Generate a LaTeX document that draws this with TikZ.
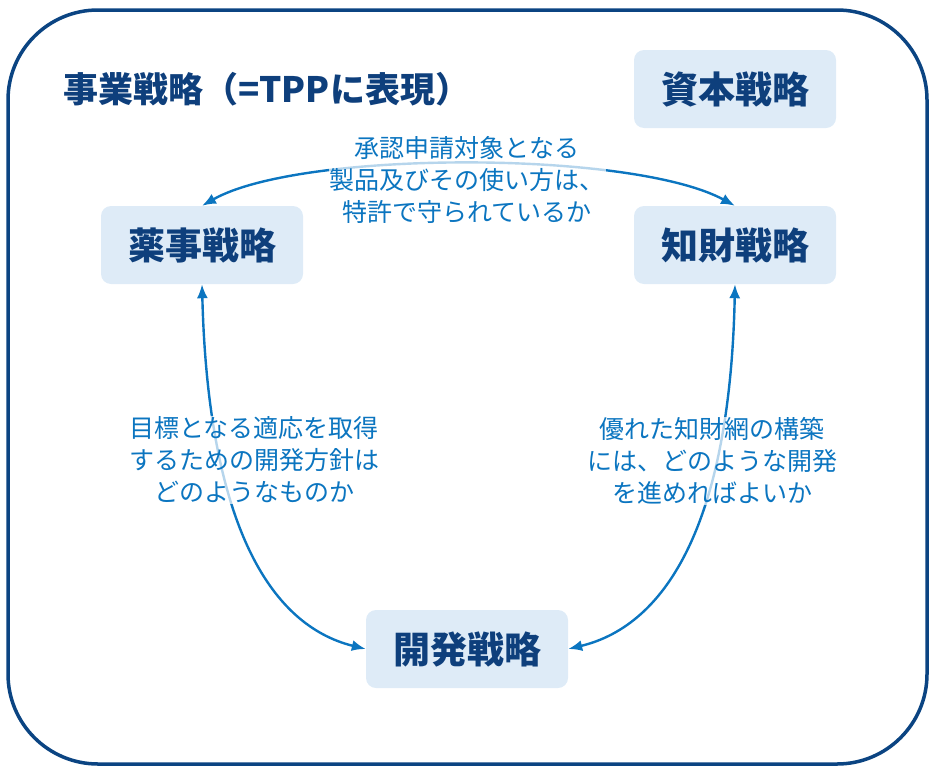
\documentclass[tikz,border=0pt]{standalone}
\usepackage{fontspec}
\newfontfamily\jp{Noto Sans CJK JP}
\usetikzlibrary{arrows.meta}
\definecolor{navy}{HTML}{0E3F7C}
\definecolor{frame}{HTML}{0B4482}
\definecolor{boxfill}{HTML}{DEEBF7}
\definecolor{arrowc}{HTML}{0B75C0}
\tikzset{
  stratbox/.style={draw=none, fill=boxfill, rounded corners=10pt, minimum width=202pt, minimum height=78pt,
    text=navy, font=\jp\bfseries\fontsize{37}{44}\selectfont, inner sep=0pt},
  lbl/.style={fill=white, fill opacity=0.7, text opacity=1, text=arrowc, align=center,
    font=\jp\fontsize{25}{32}\selectfont, inner sep=1pt},
  conn/.style={draw=arrowc, line width=2.4pt, {Latex[length=14pt,width=11pt]}-{Latex[length=14pt,width=11pt]}}
}
\begin{document}
\begin{tikzpicture}[x=1pt,y=-1pt]
\useasboundingbox (0,0) rectangle (936,771);
\draw[frame, line width=3.5pt, rounded corners=90pt] (8,10) rectangle (927,764);
\node[anchor=west, text=navy, font=\jp\bfseries\fontsize{35}{42}\selectfont, inner sep=0pt] (title) at (63,89) {事業戦略（=TPPに表現）};
\node[stratbox] (shihon) at (735,89) {資本戦略};
\node[stratbox] (yakuji) at (202,245) {薬事戦略};
\node[stratbox] (chizai) at (735,245) {知財戦略};
\node[stratbox] (kaihatsu) at (467,649) {開発戦略};
% connectors
\draw[conn] (yakuji.north) .. controls (300,150) and (632,150) .. (chizai.north);
\draw[conn] (yakuji.south) .. controls (208,520) and (268,625) .. (kaihatsu.west);
\draw[conn] (chizai.south) .. controls (730,520) and (668,625) .. (kaihatsu.east);
% labels
\node[lbl] (ltop) at (467,180) {承認申請対象となる\\製品及びその使い方は、\\特許で守られているか};
\node[lbl] (lleft) at (254,460) {目標となる適応を取得\\するための開発方針は\\どのようなものか};
\node[lbl] (lright) at (712,461) {優れた知財網の構築\\には、どのような開発\\を進めればよいか};
\end{tikzpicture}
\end{document}
